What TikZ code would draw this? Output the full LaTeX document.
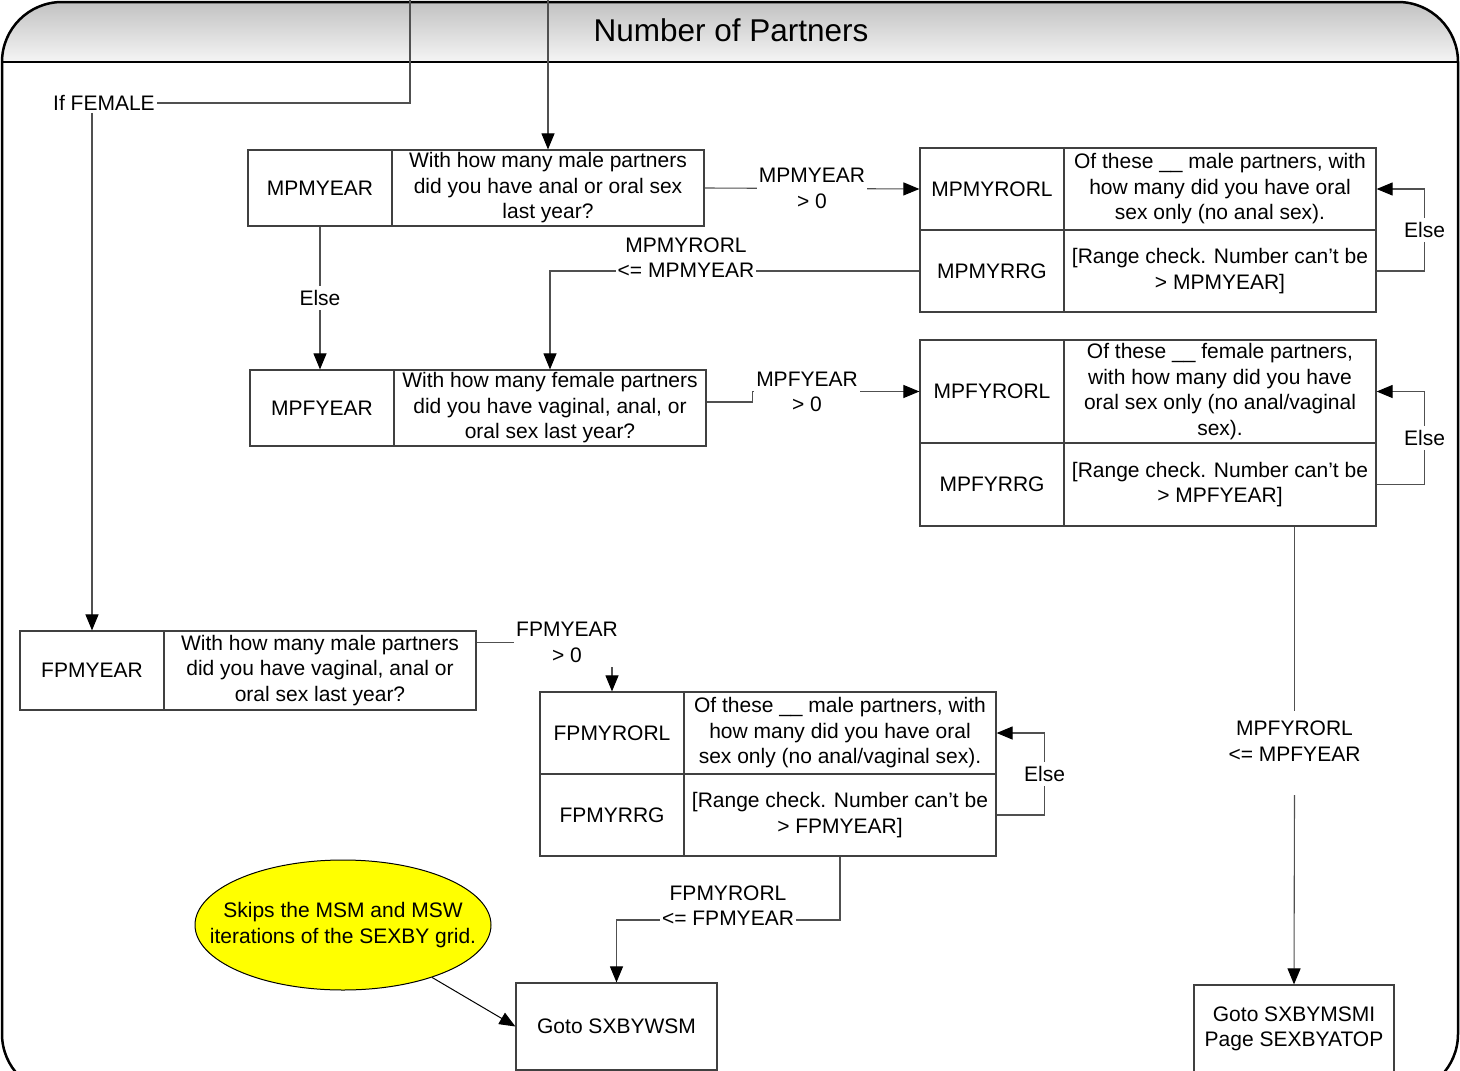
\documentclass[tikz,border=0pt]{standalone}
\usepackage{fontspec}
\setmainfont{Liberation Sans}
\usetikzlibrary{arrows.meta,shapes.geometric}
\definecolor{boxline}{HTML}{404040}
\definecolor{connline}{HTML}{505050}
\definecolor{noteyellow}{HTML}{FFFF00}
\begin{document}
\begin{tikzpicture}[x=1pt,y=-1pt,
  txt/.style={font=\fontsize{21}{25.5}\selectfont, align=center, text=black},
  cell/.style={txt, draw=boxline, line width=1.2pt, inner sep=0pt, minimum height=#1},
  idcell/.style={cell=#1, minimum width=144pt},
  qcell/.style={cell=#1, minimum width=312pt},
  gotobox/.style={txt, draw=boxline, line width=1.2pt, inner sep=0pt, minimum width=201pt, minimum height=#1},
  conn/.style={draw=connline, line width=1.1pt},
  arr/.style={-{Triangle[length=16pt,width=13pt,color=black]}},
  lbl/.style={txt, fill=white, inner xsep=2pt, inner ysep=4pt},
  elselbl/.style={txt, fill=white, inner xsep=1pt, inner ysep=4pt},
]
\useasboundingbox (0,0) rectangle (1460,1071);
\clip (0,0) rectangle (1460,1071);

% frame with shaded title band
\begin{scope}
  \clip[rounded corners=60pt] (2,2) rectangle (1458,1094);
  \shade[top color=black!24, bottom color=black!4] (2,2) rectangle (1458,62);
\end{scope}
\draw[line width=2.5pt, black, rounded corners=60pt] (2,2) rectangle (1458,1094);
\draw[line width=2.5pt, black] (2,62) -- (1458,62);
\node[font=\fontsize{31.5}{36}\selectfont] (title) at (731,30) {Number of Partners};

% question blocks
\node[idcell=76pt] (mpmyear) at (320,188) {MPMYEAR};
\node[qcell=76pt] (mpmyearq) at (548,188) {With how many male partners\\did you have anal or oral sex\\last year?};

\node[idcell=82pt] (mpmyrorl) at (992,189) {MPMYRORL};
\node[qcell=82pt] (mpmyrorlq) at (1220,189) {Of these \_\_ male partners, with\\how many did you have oral\\sex only (no anal sex).};
\node[idcell=82pt] (mpmyrrg) at (992,271) {MPMYRRG};
\node[qcell=82pt] (mpmyrrgq) at (1220,271) {[Range check. Number can’t be\\> MPMYEAR]};

\node[idcell=76pt] (mpfyear) at (322,408) {MPFYEAR};
\node[qcell=76pt] (mpfyearq) at (550,408) {With how many female partners\\did you have vaginal, anal, or\\oral sex last year?};

\node[idcell=103pt] (mpfyrorl) at (992,391.5) {MPFYRORL};
\node[qcell=103pt] (mpfyrorlq) at (1220,391.5) {Of these \_\_ female partners,\\with how many did you have\\oral sex only (no anal/vaginal\\sex).};
\node[idcell=83pt] (mpfyrrg) at (992,484.5) {MPFYRRG};
\node[qcell=83pt] (mpfyrrgq) at (1220,484.5) {[Range check. Number can’t be\\> MPFYEAR]};

\node[idcell=79pt] (fpmyear) at (92,670.5) {FPMYEAR};
\node[qcell=79pt] (fpmyearq) at (320,670.5) {With how many male partners\\did you have vaginal, anal or\\oral sex last year?};

\node[idcell=82pt] (fpmyrorl) at (612,733) {FPMYRORL};
\node[qcell=82pt] (fpmyrorlq) at (840,733) {Of these \_\_ male partners, with\\how many did you have oral\\sex only (no anal/vaginal sex).};
\node[idcell=82pt] (fpmyrrg) at (612,815) {FPMYRRG};
\node[qcell=82pt] (fpmyrrgq) at (840,815) {[Range check. Number can’t be\\> FPMYEAR]};

\node[gotobox=87pt] (goto1) at (616.5,1026.5) {Goto SXBYWSM};
\node[gotobox=88pt, minimum width=200pt] (goto2) at (1294,1029) {Goto SXBYMSMI\\Page SEXBYATOP};

% callout
\node[ellipse, draw=black, line width=1pt, fill=noteyellow, minimum width=296pt, minimum height=130pt, inner sep=0pt] (note) at (343,925) {};
\node[txt] (notetext) at (note.center) {Skips the MSM and MSW\\iterations of the SEXBY grid.};
\draw[black, line width=1pt, arr] (note) -- (goto1.west);

% entry lines from the previous section
\coordinate (topA) at (410,0);
\coordinate (topB) at (548,0);
\node[txt, inner sep=2pt] (iffemale) at (104,103) {If FEMALE};
\draw[conn] (topA) |- (iffemale.east);
\draw[conn, arr] (topB) -- (mpmyearq.north);
\draw[conn, arr] (iffemale.south -| fpmyear) -- (fpmyear.north);

% male-partner branch
\draw[conn, arr] (mpmyearq.east) -- node[lbl] {MPMYEAR\\> 0} (mpmyrorl.west);
\draw[conn, arr] (mpmyrrgq.east) -- ++(48,0) |- node[pos=0.25, elselbl] {Else} (mpmyrorlq.east);
\draw[conn, arr] (mpmyear.south) -- node[elselbl] {Else} (mpmyear.south |- mpfyear.north);
\coordinate (mpmjoin) at (686,257.5);
\draw[conn, arr] (mpmyrrg.west) -| (mpfyearq.north);
\node[lbl] at (mpmjoin) {MPMYRORL\\<= MPMYEAR};

% female-partner branch
\draw[conn, arr] (mpfyearq.east) ++(0,-6) -- ++(46,0) |- (mpfyrorl.west);
\node[lbl] at (807,392) {MPFYEAR\\> 0};
\draw[conn, arr] (mpfyrrgq.east) -- ++(48,0) |- node[pos=0.25, elselbl] {Else} (mpfyrorlq.east);
\coordinate (mpfjoin) at (1294.5,741);
\coordinate (mpfstop) at (1294.5,711);
\coordinate (mpfgap) at (1294.5,795);
\draw[conn] (mpfyrrgq.south -| mpfstop) -- (mpfstop);
\draw[conn, arr] (mpfgap) -- (goto2.north);
\node[txt] at (mpfjoin) {MPFYRORL\\<= MPFYEAR};

% female respondent branch
\coordinate (fpjoin) at (567,642.5);
\draw[conn, arr] (fpmyearq.east |- fpjoin) -| (fpmyrorl.north);
\node[lbl] at (fpjoin) {FPMYEAR\\> 0};
\draw[conn, arr] (fpmyrrgq.east) -- ++(48,0) |- node[pos=0.25, elselbl] {Else} (fpmyrorlq.east);
\coordinate (fbend) at (840,920);
\draw[conn, arr] (fpmyrrgq.south) -- (fbend) -| (goto1.north);
\node[lbl] at (728,905.5) {FPMYRORL\\<= FPMYEAR};
\end{tikzpicture}
\end{document}
